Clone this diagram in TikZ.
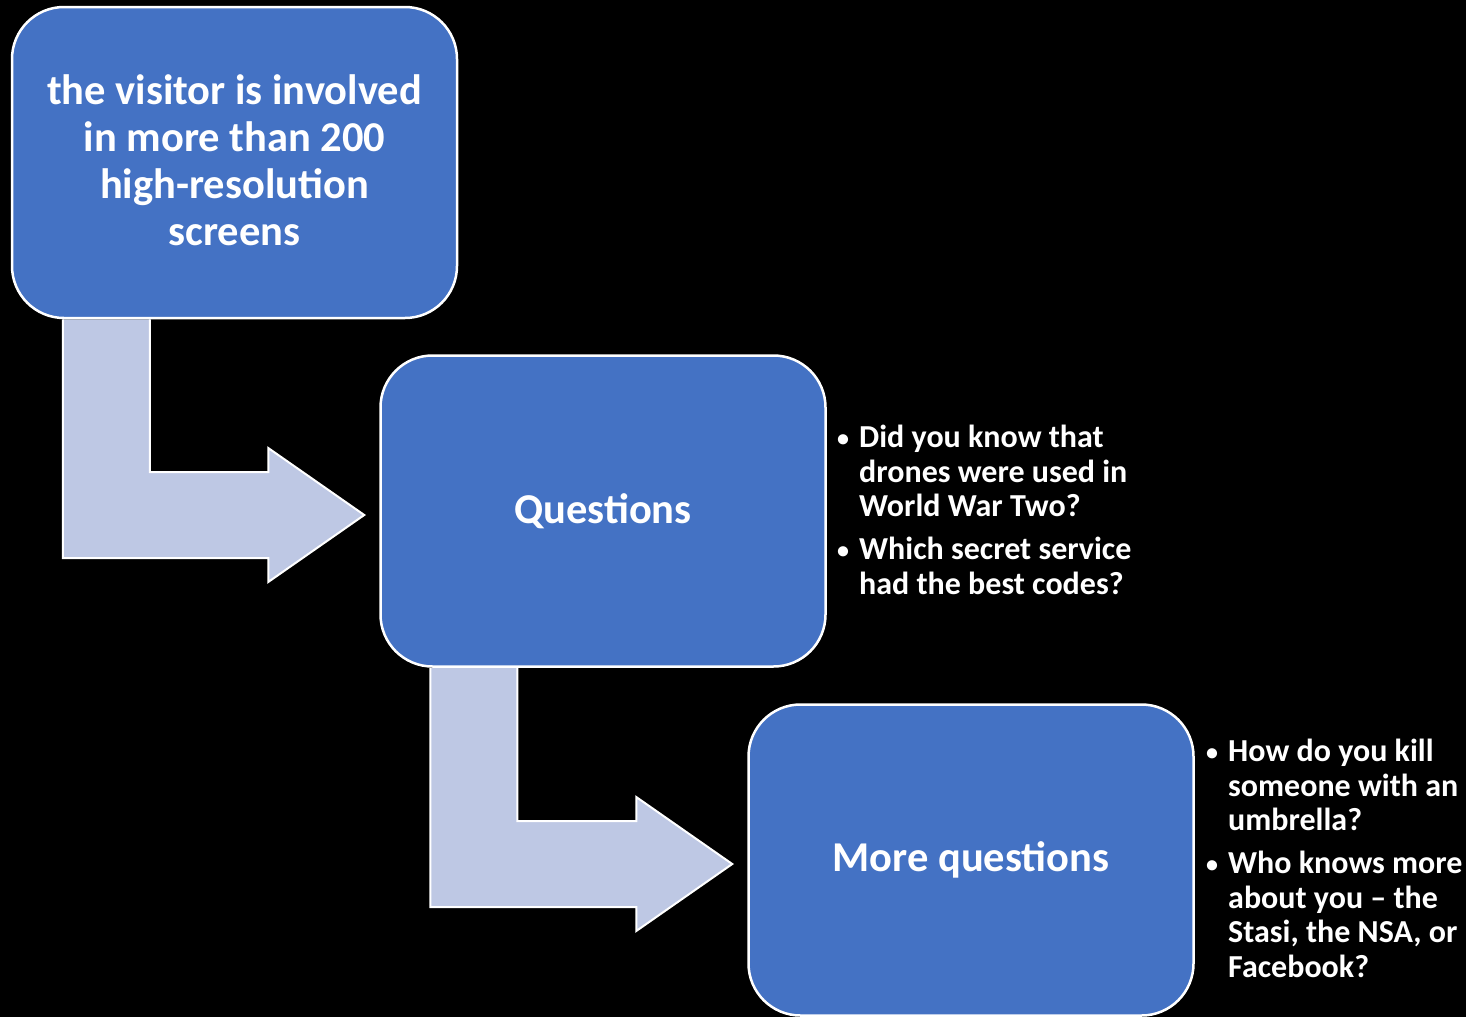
\documentclass[tikz,border=0pt]{standalone}
\usepackage{fontspec}
\setmainfont{Carlito}
\usetikzlibrary{calc}
\definecolor{boxblue}{HTML}{4472C4}
\definecolor{arrowfill}{RGB}{190,200,228}
\pgfdeclarelayer{bg}
\pgfdeclarelayer{arr}
\pgfsetlayers{bg,arr,main}
\tikzset{
  stagebox/.style={draw=white, line width=2.5pt, fill=boxblue, rounded corners=52pt,
    minimum width=445pt, minimum height=311pt, text=white, align=center,
    font=\bfseries\fontsize{42.5}{47}\selectfont, inner sep=0pt},
  bentarrow/.style={draw=white, line width=2pt, fill=arrowfill, line join=miter},
  bulletlist/.style={text=white, text width=400pt, align=flush left, inner sep=0pt,
    font=\bfseries\fontsize{32}{34.5}\selectfont},
}
\newcommand{\bitem}[1]{\par\hangindent=22pt\hangafter=1\noindent\makebox[22pt][l]{\raisebox{1pt}{\fontsize{24}{24}\selectfont•}}#1\par}
\begin{document}
\begin{tikzpicture}[x=1pt,y=-1pt]
\begin{pgfonlayer}{bg}
  \fill[black] (0,0) rectangle (1466,1017);
\end{pgfonlayer}
\useasboundingbox (0,0) rectangle (1466,1017);

\node[stagebox, text depth=5pt] (b1) at (234.5,162.5) {the visitor is involved\\in more than 200\\high-resolution\\screens};
\node[stagebox] (b2) at (603,511) {Questions};
\node[stagebox] (b3) at (971,860) {More questions};

% bent arrow 1
\coordinate (a1s) at ($(b1.south west)+(52,0)$);
\coordinate (a1e) at ($(b1.south west)+(139,0)$);
\coordinate (a1t) at ($(b2.west)+(-15,4)$);
\coordinate (a1lo) at ($(a1t)+(0,43)$);
\coordinate (a1hi) at ($(a1t)+(0,-43)$);
\begin{pgfonlayer}{arr}
\draw[bentarrow] (a1s) -- (a1s |- a1lo) -- ($(a1t)+(-96,43)$) -- ($(a1t)+(-96,67)$)
  -- (a1t) -- ($(a1t)+(-96,-67)$) -- ($(a1t)+(-96,-43)$) -- (a1e |- a1hi) -- (a1e);
\end{pgfonlayer}

% bent arrow 2
\coordinate (a2s) at ($(b2.south west)+(51,0)$);
\coordinate (a2e) at ($(b2.south west)+(138,0)$);
\coordinate (a2t) at ($(b3.west)+(-15,4)$);
\coordinate (a2lo) at ($(a2t)+(0,43)$);
\coordinate (a2hi) at ($(a2t)+(0,-43)$);
\begin{pgfonlayer}{arr}
\draw[bentarrow] (a2s) -- (a2s |- a2lo) -- ($(a2t)+(-96,43)$) -- ($(a2t)+(-96,67)$)
  -- (a2t) -- ($(a2t)+(-96,-67)$) -- ($(a2t)+(-96,-43)$) -- (a2e |- a2hi) -- (a2e);
\end{pgfonlayer}

\node[bulletlist, anchor=north west] (l1) at (837,413) {%
\bitem{Did you know that\newline drones were used in\newline World War Two?}\vspace{8.5pt}%
\bitem{Which secret service\newline had the best codes?}};

\node[bulletlist, anchor=north west] (l2) at (1206,727) {%
\bitem{How do you kill\newline someone with an\newline umbrella?}\vspace{8.5pt}%
\bitem{Who knows more\newline about you – the\newline Stasi, the NSA, or\newline Facebook?}};
\end{tikzpicture}
\end{document}
